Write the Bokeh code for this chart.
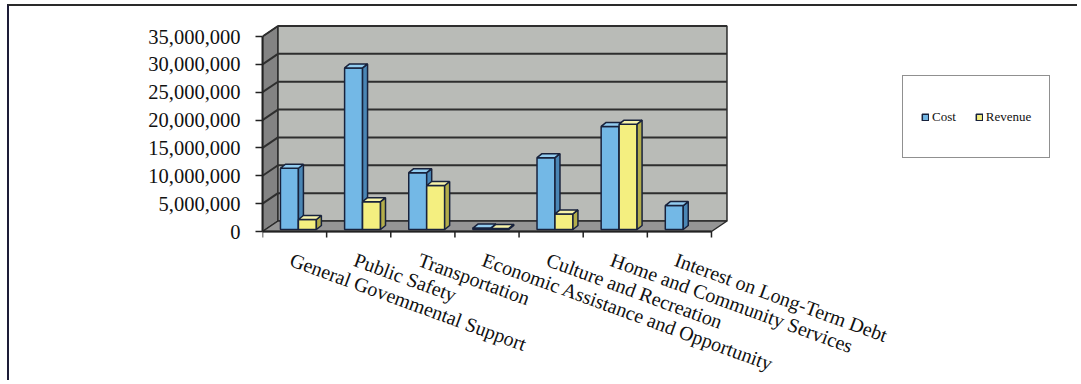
from bokeh.plotting import figure
from bokeh.models import Range1d, FixedTicker, NumeralTickFormatter, Legend, LegendItem
from bokeh.core.properties import value
from bokeh.embed import file_html
from bokeh.resources import INLINE

# ---------------- data ----------------
categories = [
    "General Govemmental Support",
    "Public Safety",
    "Transportation",
    "Economic Assistance and Opportunity",
    "Culture and Recreation",
    "Home and Community Services",
    "Interest on Long-Term Debt",
]
cost = [11_000_000, 29_000_000, 10_200_000, 250_000, 12_900_000, 18_500_000, 4_300_000]
revenue = [1_800_000, 5_000_000, 7_900_000, 200_000, 2_800_000, 18_900_000, 0]
series_names = ["Cost", "Revenue"]
y_ticks = [0, 5_000_000, 10_000_000, 15_000_000, 20_000_000, 25_000_000, 30_000_000, 35_000_000]

# ---------------- layout ----------------
W, H = 1070, 376
LEFT, TOP, RIGHT, BOTTOM = 253, 18, 19, 0
AXIS_PX = 225                  # canvas y of the value 0 line
frame_w = W - LEFT - RIGHT
PX_CAT = 64.14                 # pixels per category
PX_Y = 195.0 / 35_000_000      # pixels per unit value

n = len(categories)
x0, x1 = -0.5, n - 0.5
ytop = y_ticks[-1]

DX = 15.5 / PX_CAT     # wall depth
DY = 10.5 / PX_Y
BDX = 5.0 / PX_CAT     # bar depth
BDY = 4.0 / PX_Y
BASE = 2.0 / PX_Y

p = figure(width=W, height=H, output_backend="svg", toolbar_location=None,
           x_axis_location=None,
           x_range=Range1d(x0, x0 + frame_w / PX_CAT),
           y_range=Range1d(-(H - BOTTOM - AXIS_PX) / PX_Y, (AXIS_PX - TOP) / PX_Y),
           min_border_left=LEFT, min_border_right=RIGHT,
           min_border_top=TOP, min_border_bottom=BOTTOM)
p.styles = {"margin-left": "7px", "margin-top": "4px",
            "border-left": "2px solid #1d1c38", "border-top": "2px solid #2a2a2a"}
p.outline_line_color = None
p.xgrid.visible = False
p.ygrid.visible = False
p.background_fill_color = "white"
p.border_fill_color = "white"

EDGE = "#2b2b2b"
# side wall
p.patch([x0, x0 + DX, x0 + DX, x0], [0, DY, ytop + DY, ytop],
        fill_color="#838383", line_color=EDGE, line_width=1.5)
# back wall
p.patch([x0 + DX, x1 + DX, x1 + DX, x0 + DX], [DY, DY, ytop + DY, ytop + DY],
        fill_color="#b9bbb7", line_color=EDGE, line_width=1.5)
# floor
p.patch([x0, x1, x1 + DX, x0 + DX], [0, 0, DY, DY],
        fill_color="#959595", line_color=EDGE, line_width=1.5)
# gridlines
gv = y_ticks[1:]
p.segment(x0=[x0 + DX] * len(gv), y0=[v + DY for v in gv],
          x1=[x1 + DX] * len(gv), y1=[v + DY for v in gv],
          line_color="#2e2e2e", line_width=2)
p.segment(x0=[x0] * len(gv), y0=gv, x1=[x0 + DX] * len(gv), y1=[v + DY for v in gv],
          line_color="#2e2e2e", line_width=2)

# bars
specs = [
    (cost, -0.22, "#73b8e6", "#4a86b5", "#93cdf0"),
    (revenue, 0.06, "#f4ef80", "#b3ad4a", "#f8f4aa"),
]
BW = 0.28
OUT = "#18223c"
legend_renderers = []
for vals, off, cfront, cside, ctop in specs:
    idx = [i for i, v in enumerate(vals) if v > 0]
    lefts = [i + off for i in idx]
    rights = [i + off + BW for i in idx]
    tops = [BASE + vals[i] for i in idx]
    r = p.quad(left=lefts, right=rights, bottom=[BASE] * len(idx), top=tops,
               fill_color=cfront, line_color=OUT, line_width=1.5)
    legend_renderers.append(r)
    p.patches([[rr, rr + BDX, rr + BDX, rr] for rr in rights],
              [[BASE, BASE + BDY, t + BDY, t] for t in tops],
              fill_color=cside, line_color=OUT, line_width=1.5)
    p.patches([[l, rr, rr + BDX, l + BDX] for l, rr in zip(lefts, rights)],
              [[t, t, t + BDY, t + BDY] for t in tops],
              fill_color=ctop, line_color=OUT, line_width=1.5)

# category axis (line, boundary ticks, rotated labels)
AX = "#222222"
p.segment(x0=[x0], y0=[0], x1=[x1], y1=[0], line_color=AX, line_width=2)
bounds = [i - 0.5 for i in range(n + 1)]
p.segment(x0=bounds, y0=[0] * len(bounds), x1=bounds, y1=[-6.0 / PX_Y] * len(bounds),
          line_color=AX, line_width=1.5)
FONT = "Liberation Serif"
p.text(x=list(range(n)), y=[-17.0 / PX_Y] * n, text=categories, angle=-0.35,
       text_font=value(FONT), text_font_size="20px", text_align="left",
       text_baseline="top", text_color="#111111")

# value axis
ya = p.yaxis[0]
ya.ticker = FixedTicker(ticks=y_ticks, minor_ticks=[])
ya.bounds = (0, ytop)
ya.formatter = NumeralTickFormatter(format="0,0")
ya.major_tick_out = 7
ya.major_tick_in = 0
ya.major_tick_line_color = AX
ya.major_tick_line_width = 1.5
ya.axis_line_color = AX
ya.axis_line_width = 2
ya.major_label_standoff = 15
ya.major_label_text_font = FONT
ya.major_label_text_font_size = "20.5px"
ya.major_label_text_color = "#111111"

legend = Legend(
    items=[LegendItem(label=name, renderers=[r]) for name, r in zip(series_names, legend_renderers)],
    orientation="horizontal", location=(640, H - BOTTOM - (158 - 6)), margin=0,
    padding=18, spacing=19, glyph_width=8, glyph_height=8, label_standoff=3,
    label_height=45, label_text_font=FONT, label_text_font_size="13px",
    label_text_color="#111111",
    border_line_color="#222222", border_line_width=1.5,
    background_fill_color="white", background_fill_alpha=1.0,
)
p.add_layout(legend)

open("out.html", "w").write(file_html(p, INLINE))
